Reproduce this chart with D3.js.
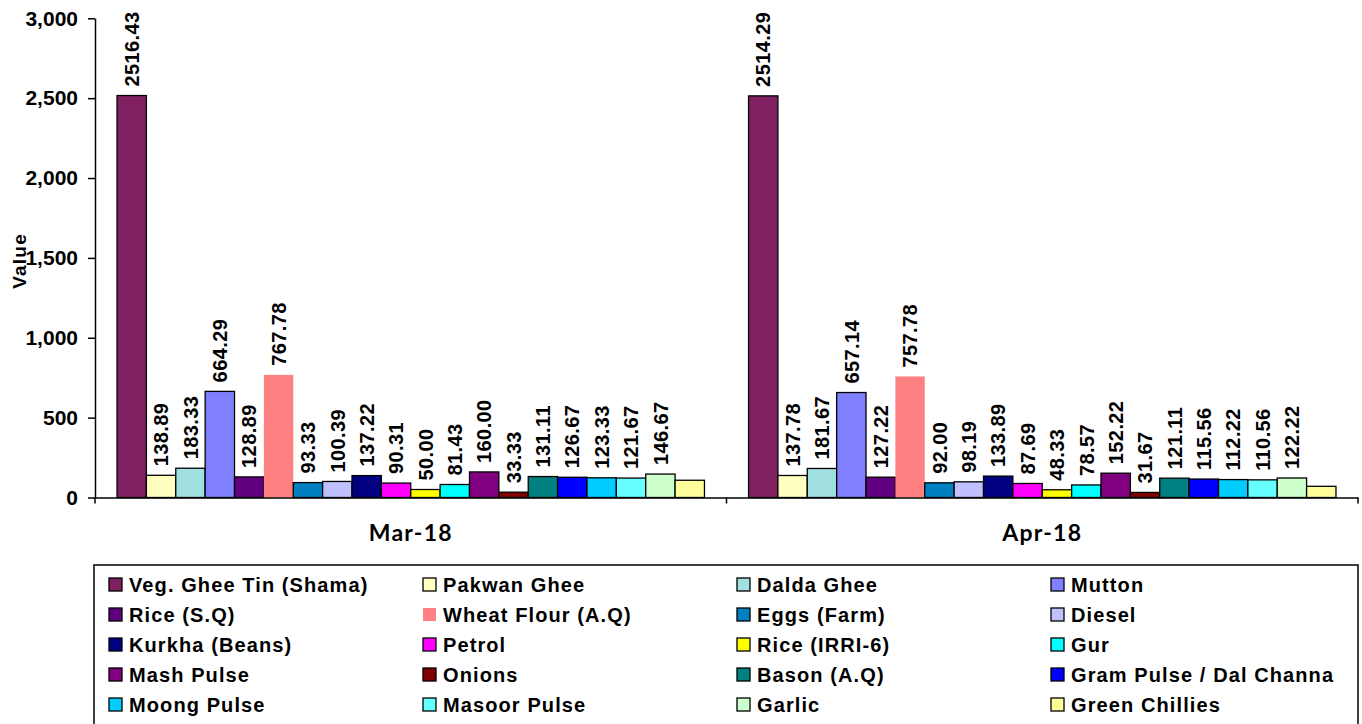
<!DOCTYPE html>
<html>
<head>
<meta charset="utf-8">
<script src="https://cdn.jsdelivr.net/npm/d3@7"></script>
<style>
  body { margin: 0; background: #fff; }
  svg { display: block; font-family: "Liberation Sans", Arial, sans-serif; font-weight: bold; }
</style>
</head>
<body>
<svg width="1362" height="724"></svg>
<script>
let categories = ["Mar-18", "Apr-18"];
let items = [
  "Veg. Ghee Tin (Shama)", "Pakwan Ghee", "Dalda Ghee", "Mutton",
  "Rice (S.Q)", "Wheat Flour (A.Q)", "Eggs (Farm)", "Diesel",
  "Kurkha (Beans)", "Petrol", "Rice (IRRI-6)", "Gur",
  "Mash Pulse", "Onions", "Bason (A.Q)", "Gram Pulse / Dal Channa",
  "Moong Pulse", "Masoor Pulse", "Garlic", "Green Chillies"
];
let mar18 = [2516.43, 138.89, 183.33, 664.29, 128.89, 767.78, 93.33, 100.39, 137.22, 90.31,
  50.00, 81.43, 160.00, 33.33, 131.11, 126.67, 123.33, 121.67, 146.67, 108];
let apr18 = [2514.29, 137.78, 181.67, 657.14, 127.22, 757.78, 92.00, 98.19, 133.89, 87.69,
  48.33, 78.57, 152.22, 31.67, 121.11, 115.56, 112.22, 110.56, 122.22, 70];
let yTicks = [0, 500, 1000, 1500, 2000, 2500, 3000];
let unlabeled = ["Green Chillies"];
let noBorder = ["Wheat Flour (A.Q)"];
let palette = [
  "#802060", "#ffffc0", "#a0e0e0", "#8080ff",
  "#600080", "#ff8080", "#0080c0", "#c0c0ff",
  "#000080", "#ff00ff", "#ffff00", "#00ffff",
  "#800080", "#800000", "#008080", "#0000ff",
  "#00ccff", "#66ffff", "#ccffcc", "#ffff99"
];

let seriesByCat = { "Mar-18": mar18, "Apr-18": apr18 };

let svg = d3.select("svg");
let plotLeft = 95, plotRight = 1358, plotTop = 18.3, plotBottom = 497.5;

let x0 = d3.scaleBand()
  .domain(categories)
  .range([plotLeft, plotRight]);
let x1 = d3.scaleBand()
  .domain(items)
  .range([0, x0.bandwidth()])
  .paddingInner(0)
  .paddingOuter(0.75);
let y = d3.scaleLinear()
  .domain([0, 3000])
  .range([plotBottom, plotTop]);
let color = d3.scaleOrdinal()
  .domain(items)
  .range(palette);

// bars
let groups = svg.append("g").selectAll("g")
  .data(categories)
  .enter().append("g")
    .attr("transform", d => `translate(${x0(d)},0)`);

let cells = groups.selectAll("g")
  .data(c => items.map((name, i) => ({ name: name, value: seriesByCat[c][i] })))
  .enter().append("g");

cells.append("rect")
  .attr("x", d => x1(d.name))
  .attr("y", d => y(d.value))
  .attr("width", x1.bandwidth())
  .attr("height", d => y(0) - y(d.value))
  .attr("fill", d => color(d.name))
  .attr("stroke", d => noBorder.includes(d.name) ? "none" : "#000")
  .attr("stroke-width", 1.3);

cells.filter(d => !unlabeled.includes(d.name))
  .append("text")
  .attr("transform", d => `translate(${x1(d.name) + x1.bandwidth() / 2},${y(d.value) - 9}) rotate(-90)`)
  .attr("dy", "0.36em")
  .attr("font-size", 20)
  .attr("letter-spacing", 0.4)
  .attr("fill", "#000")
  .text(d => d.value.toFixed(2));

// y axis
let yAxis = svg.append("g")
  .attr("transform", `translate(${plotLeft},0)`)
  .call(d3.axisLeft(y)
    .tickValues(yTicks)
    .tickSize(7)
    .tickSizeOuter(0)
    .tickPadding(10)
    .tickFormat(d3.format(",")));
yAxis.select(".domain").attr("stroke", "#000").attr("stroke-width", 1.5);
yAxis.selectAll(".tick line").attr("stroke", "#000").attr("stroke-width", 1.5);
yAxis.selectAll("text")
  .attr("font-size", 21)
  .attr("font-family", "Liberation Sans, Arial, sans-serif")
  .attr("font-weight", "bold")
  .attr("fill", "#000");

svg.append("text")
  .attr("transform", `translate(19,${(plotTop + plotBottom) / 2 + 3}) rotate(-90)`)
  .attr("text-anchor", "middle")
  .attr("dy", "0.36em")
  .attr("font-size", 19)
  .attr("letter-spacing", 1.2)
  .text("Value");

// x axis
let xAxis = svg.append("g")
  .attr("transform", `translate(0,${plotBottom})`)
  .call(d3.axisBottom(x0).tickSize(0).tickPadding(27));
xAxis.select(".domain").attr("stroke", "#000").attr("stroke-width", 1.5);
xAxis.selectAll("text")
  .attr("font-family", "Lato, sans-serif")
  .attr("font-weight", "bold")
  .attr("font-size", 23)
  .attr("letter-spacing", 1.2)
  .attr("fill", "#000");

xAxis.selectAll("line.sep")
  .data(categories.map(c => x0(c)).concat([plotRight]))
  .enter().append("line")
    .attr("class", "sep")
    .attr("x1", d => d)
    .attr("x2", d => d)
    .attr("y1", 0)
    .attr("y2", 6)
    .attr("stroke", "#000")
    .attr("stroke-width", 1.5);

// legend
let legend = svg.append("g");
legend.append("rect")
  .attr("x", 94)
  .attr("y", 565)
  .attr("width", plotRight - 94)
  .attr("height", 180)
  .attr("fill", "#fff")
  .attr("stroke", "#000")
  .attr("stroke-width", 1.5);

let entries = legend.selectAll("g.entry")
  .data(items)
  .enter().append("g")
    .attr("class", "entry")
    .attr("transform", (d, i) => `translate(${109 + (i % 4) * 314},${584.5 + Math.floor(i / 4) * 30})`);

entries.append("rect")
  .attr("x", 0)
  .attr("y", -6.5)
  .attr("width", 13)
  .attr("height", 13)
  .attr("fill", d => color(d))
  .attr("stroke", d => noBorder.includes(d) ? "none" : "#000")
  .attr("stroke-width", 1.3);

entries.append("text")
  .attr("x", 20)
  .attr("dy", "0.36em")
  .attr("font-size", 20)
  .attr("letter-spacing", 1.1)
  .text(d => d);
</script>
</body>
</html>
